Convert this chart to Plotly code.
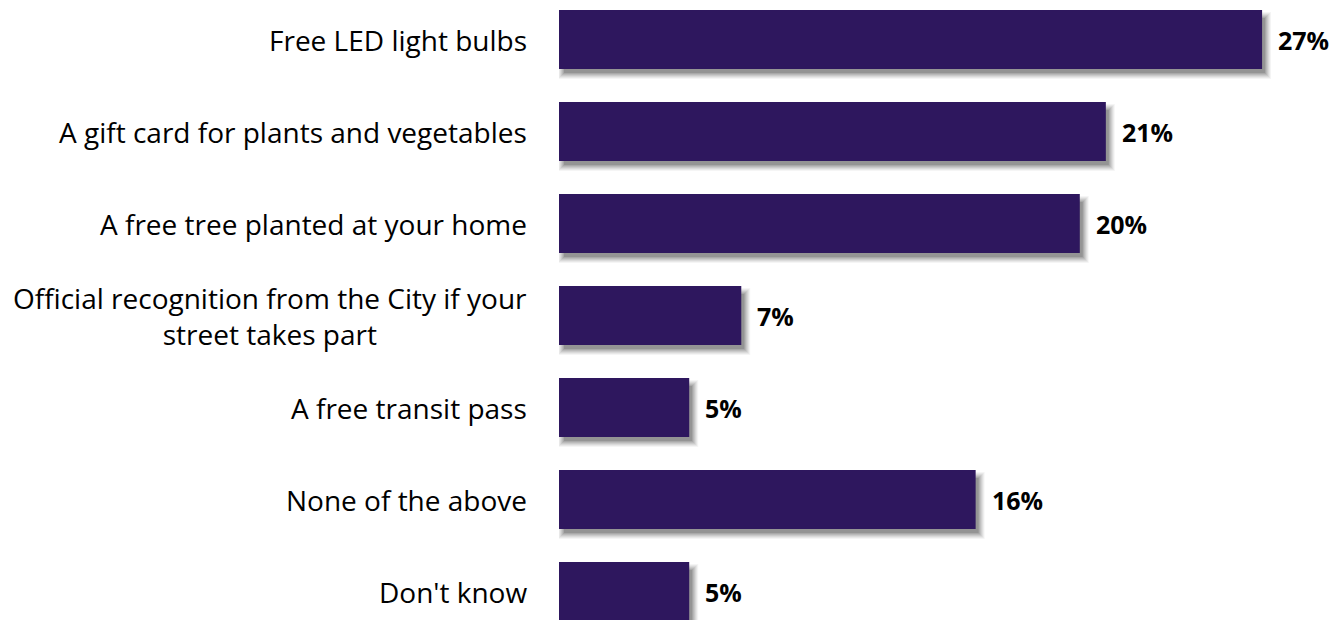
import plotly.graph_objects as go

categories = [
    "Free LED light bulbs",
    "A gift card for plants and vegetables",
    "A free tree planted at your home",
    "Official recognition from the City if your<br>street takes part",
    "A free transit pass",
    "None of the above",
    "Don't know",
]
values = [27, 21, 20, 7, 5, 16, 5]
value_labels = ["27%", "21%", "20%", "7%", "5%", "16%", "5%"]

BAR_COLOR = "#2e175e"
FONT = "Open Sans"
W, H = 1339, 620
LEFT = 559
PX_PER_UNIT = 26.04          # horizontal pixels per percentage point
BAND = 92.0                  # vertical pixels per category
BAR_W = 0.64                 # bar thickness as fraction of band

positions = list(range(len(categories)))
x_max = (W - LEFT) / PX_PER_UNIT
y_top = -39.5 / BAND
y_bottom = (H - 39.5) / BAND

fig = go.Figure()

# soft drop shadow under each bar, built from the same values
dx, dy = 3 / PX_PER_UNIT, 4 / BAND
shadow_layers = [(6, 0.04), (5, 0.05), (4, 0.06), (3, 0.07), (2, 0.08), (1, 0.09), (0, 0.12)]
for p, v in zip(positions, values):
    for grow, op in shadow_layers:
        gx, gy = grow / PX_PER_UNIT, grow / BAND
        fig.add_shape(
            type="rect", xref="x", yref="y", layer="below",
            x0=dx - gx + 2 / PX_PER_UNIT, x1=v + dx + gx,
            y0=p - BAR_W / 2 + dy - gy + 4 / BAND, y1=p + BAR_W / 2 + dy + gy,
            fillcolor=f"rgba(0,0,0,{op})", line_width=0,
        )

fig.add_trace(go.Bar(
    x=values, y=positions, orientation="h", width=BAR_W,
    marker=dict(color=BAR_COLOR, line_width=0),
    hoverinfo="skip",
))

for p, cat, v, lab in zip(positions, categories, values, value_labels):
    fig.add_annotation(
        x=0, y=p, xref="x", yref="y", text=cat, showarrow=False,
        xanchor="right", yanchor="middle", align="center", xshift=-30,
        font=dict(family=FONT, size=28, color="#000000"),
    )
    fig.add_annotation(
        x=v, y=p, xref="x", yref="y", text=f"<b>{lab}</b>", showarrow=False,
        xanchor="left", yanchor="middle", xshift=14,
        font=dict(family=FONT, size=25, color="#000000"),
    )

fig.update_layout(
    width=W, height=H,
    margin=dict(l=LEFT, r=0, t=0, b=0),
    paper_bgcolor="white", plot_bgcolor="white",
    showlegend=False,
    xaxis=dict(range=[0, x_max], visible=False, fixedrange=True),
    yaxis=dict(range=[y_bottom, y_top], visible=False, fixedrange=True),
)

fig.write_html("out.html", config={"displayModeBar": False})
